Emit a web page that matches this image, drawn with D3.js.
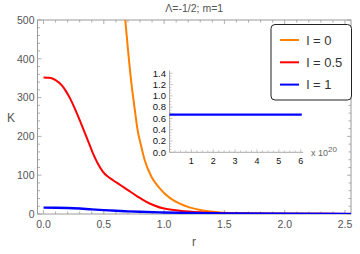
<!DOCTYPE html>
<html><head><meta charset="utf-8">
<script src="https://cdn.jsdelivr.net/npm/d3@7"></script>
<style>body{margin:0;background:#fff}svg{display:block}text{font-family:"Liberation Sans",Arial,sans-serif}</style>
</head><body><svg id="c" width="360" height="254"></svg>
<script>
// ---- data ----
const title = "Λ=-1/2; m=1";
const seriesNames = ["l = 0", "l = 0.5", "l = 1"];
const seriesColors = ["#ff8000", "#ff0000", "#0000ff"];
const rOrange = [0.65,0.678,0.70,0.728,0.756,0.783,0.80,0.84,0.895,0.95,1.0,1.05,1.13,1.21,1.30,1.38,1.5,1.7,2.0,2.3,2.55];
const kOrange = [600,500,425,339,271,211,188,138,96,71,54,41,26.5,17,10.3,6.6,3.4,1.3,0.6,0.35,0.25];
const rRed = [0,0.05,0.1,0.15,0.183,0.22,0.266,0.3,0.335,0.37,0.41,0.45,0.49,0.53,0.576,0.64,0.70,0.78,0.853,0.92,0.99,1.13,1.3,1.5,1.8,2.2,2.55];
const kRed = [352,351,345,332,318,298,267,242,215,188,156,130,110,97,87,74,61.5,45,31.5,22,14.6,8.5,4.5,2.5,1.2,0.6,0.3];
const rBlue = [0,0.1,0.2,0.3,0.4,0.5,0.6,0.7,0.8,1.0,1.2,1.5,2.0,2.55];
const kBlue = [16.5,16.3,15.5,14,12,10,8.2,6.8,5.7,4,2.8,1.6,0.7,0.35];
const xTicks = [0,0.5,1.0,1.5,2.0,2.5];
const yTicks = [0,100,200,300,400,500];
// inset
const insetX = [0,6.05];
const insetY = [0.667,0.667];
const insetXTicks = [1,2,3,4,5,6];
const insetYTicks = [0,0.2,0.4,0.6,0.8,1.0,1.2,1.4];

const svg = d3.select("#c");
const L=37.5, R=351, T=20, B=214;
const x = d3.scaleLinear().domain([-0.05,2.55]).range([L,R]);
const y = d3.scaleLinear().domain([0,500]).range([B,T]);
const frameC="#9a9a9a", labC="#555";

svg.append("defs").append("clipPath").attr("id","clip")
  .append("rect").attr("x",L).attr("y",T).attr("width",R-L).attr("height",B-T);

// frame
svg.append("rect").attr("x",L).attr("y",T).attr("width",R-L).attr("height",B-T)
  .attr("fill","none").attr("stroke",frameC).attr("stroke-width",1);

// ticks
const xMinor = d3.range(0,26).map(i=>i/10).filter(v=>v<=2.55);
const yMinor = d3.range(0,26).map(i=>i*20);
const tg = svg.append("g").attr("stroke",frameC).attr("stroke-width",0.8);
xMinor.forEach(v=>{
  const maj = xTicks.some(t=>Math.abs(t-v)<1e-9);
  const len = maj?4:2.5;
  tg.append("line").attr("x1",x(v)).attr("x2",x(v)).attr("y1",B).attr("y2",B-len);
  tg.append("line").attr("x1",x(v)).attr("x2",x(v)).attr("y1",T).attr("y2",T+len);
});
yMinor.forEach(v=>{
  const maj = yTicks.includes(v);
  const len = maj?4:2.5;
  tg.append("line").attr("x1",L).attr("x2",L+len).attr("y1",y(v)).attr("y2",y(v));
  tg.append("line").attr("x1",R).attr("x2",R-len).attr("y1",y(v)).attr("y2",y(v));
});
xTicks.forEach(v=>svg.append("text").attr("x",x(v)).attr("y",B+14).attr("text-anchor","middle")
  .attr("font-size",10.5).attr("fill",labC).text(v.toFixed(1)));
yTicks.forEach(v=>svg.append("text").attr("x",L-3).attr("y",y(v)+3.7).attr("text-anchor","end")
  .attr("font-size",10.5).attr("fill",labC).text(v));

// labels
svg.append("text").attr("x",(L+R)/2).attr("y",12).attr("text-anchor","middle").attr("font-size",10.5).attr("fill",labC).text(title);
svg.append("text").attr("x",11).attr("y",122).attr("text-anchor","middle").attr("font-size",12).attr("fill",labC).text("K");
svg.append("text").attr("x",194).attr("y",246).attr("text-anchor","middle").attr("font-size",12).attr("fill",labC).text("r");

// curves
const line = d3.line().x(d=>x(d[0])).y(d=>y(d[1])).curve(d3.curveMonotoneX);
const cg = svg.append("g").attr("clip-path","url(#clip)");
[[rOrange,kOrange],[rRed,kRed],[rBlue,kBlue]].forEach((s,i)=>{
  cg.append("path").attr("d",line(d3.zip(s[0],s[1]))).attr("fill","none")
    .attr("stroke",seriesColors[i]).attr("stroke-width",i===2?2.4:2);
});

// inset
const ix = d3.scaleLinear().domain([0,6]).range([169.5,300.7]);
const iy = d3.scaleLinear().domain([0,1.4]).range([152.3,73.3]);
const ig = svg.append("g");
ig.append("line").attr("x1",ix(0)).attr("x2",ix(6.12)).attr("y1",iy(0)).attr("y2",iy(0)).attr("stroke","#aaa");
ig.append("line").attr("x1",ix(0)).attr("x2",ix(0)).attr("y1",iy(0)).attr("y2",iy(1.45)).attr("stroke","#aaa");
d3.range(0,31).map(i=>i*0.05).filter(v=>v<=1.45).forEach((v,i)=>{
  const maj = i%4===0;
  ig.append("line").attr("x1",ix(0)).attr("x2",ix(0)+(maj?3:1.8)).attr("y1",iy(v)).attr("y2",iy(v)).attr("stroke","#aaa").attr("stroke-width",0.7);
});
d3.range(0,25).map(i=>i*0.25).filter(v=>v<=6.1).forEach((v,i)=>{
  const maj = i%4===0;
  ig.append("line").attr("x1",ix(v)).attr("x2",ix(v)).attr("y1",iy(0)).attr("y2",iy(0)-(maj?3:1.8)).attr("stroke","#aaa").attr("stroke-width",0.7);
});
insetYTicks.forEach(v=>ig.append("text").attr("x",ix(0)-3.5).attr("y",iy(v)+3.3).attr("text-anchor","end")
  .attr("font-size",9.5).attr("fill","#111").text(v.toFixed(1)));
insetXTicks.forEach(v=>ig.append("text").attr("x",ix(v)).attr("y",iy(0)+12).attr("text-anchor","middle")
  .attr("font-size",9).attr("fill","#111").text(v));
const xt = ig.append("text").attr("x",311).attr("y",iy(0)+3.5).attr("font-size",9).attr("fill","#666");
xt.append("tspan").text("x 10");
xt.append("tspan").attr("dy",-4).attr("font-size",8).text("20");
ig.append("path").attr("d",d3.line().x(d=>ix(d[0])).y(d=>iy(d[1]))(d3.zip(insetX,insetY)))
  .attr("stroke","#0000ff").attr("stroke-width",2.2).attr("fill","none");

// legend
const lg = svg.append("g");
lg.append("rect").attr("x",271).attr("y",24.5).attr("width",80.5).attr("height",75.5).attr("rx",4)
  .attr("fill","#fff").attr("stroke","#222").attr("stroke-width",1);
seriesNames.forEach((n,i)=>{
  const yy = 40 + i*22.3;
  lg.append("line").attr("x1",280).attr("x2",299).attr("y1",yy).attr("y2",yy).attr("stroke",seriesColors[i]).attr("stroke-width",2);
  lg.append("text").attr("x",306.5).attr("y",yy+4.5).attr("font-size",13).attr("fill","#333").text(n);
});
</script></body></html>
